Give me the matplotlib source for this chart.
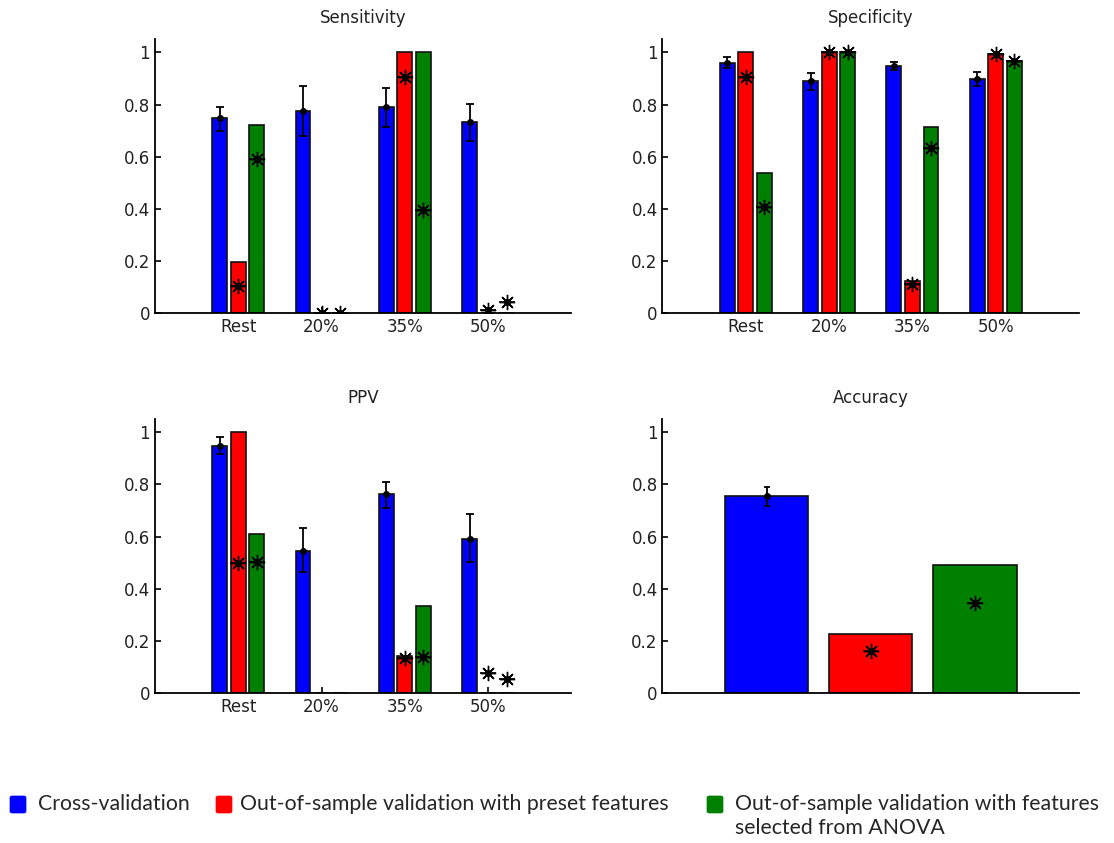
import numpy as np
import matplotlib.pyplot as plt
from matplotlib.patches import FancyBboxPatch

# 그룹 이름
groups = ['Rest', '20%', '35%', '50%']
colors = ['#0000ff', '#ff0000', '#008000']
labels = ['Cross-validation',
          'Out-of-sample validation with preset features',
          'Out-of-sample validation with features\nselected from ANOVA']

# 각 지표별 값: [cross-validation, preset, ANOVA] x 그룹
sens_bar = [[0.748, 0.775, 0.789, 0.734],
            [0.197, 0.0, 1.0, 0.0],
            [0.72, 0.0, 1.0, 0.0]]
sens_lo = [0.700, 0.679, 0.714, 0.659]
sens_hi = [0.789, 0.870, 0.865, 0.802]
sens_star = [[0.105, 0.0, 0.904, 0.013],
             [0.591, 0.0, 0.395, 0.042]]

spec_bar = [[0.960, 0.891, 0.946, 0.898],
            [1.0, 1.0, 0.124, 0.994],
            [0.538, 1.0, 0.714, 0.966]]
spec_lo = [0.939, 0.856, 0.932, 0.871]
spec_hi = [0.981, 0.920, 0.964, 0.926]
spec_star = [[0.904, 1.0, 0.111, 0.994],
             [0.407, 1.0, 0.633, 0.966]]

ppv_bar = [[0.946, 0.545, 0.764, 0.593],
           [1.0, 0.0, 0.144, 0.0],
           [0.612, 0.0, 0.333, 0.0]]
ppv_lo = [0.918, 0.464, 0.709, 0.503]
ppv_hi = [0.981, 0.635, 0.811, 0.688]
ppv_star = [[0.498, np.nan, 0.137, 0.077],
            [0.504, np.nan, 0.138, 0.055]]

acc_bar = [0.756, 0.226, 0.492]
acc_lo = 0.719
acc_hi = 0.789
acc_star = [0.163, 0.347]

plt.rcParams['font.family'] = 'DejaVu Sans'
plt.rcParams['font.size'] = 12

fig = plt.figure(figsize=(11.14, 8.43), dpi=100)

axpos = [[0.1391, 0.6283, 0.3739, 0.3251],
         [0.5947, 0.6283, 0.3739, 0.3251],
         [0.1391, 0.1776, 0.3739, 0.3251],
         [0.5947, 0.1776, 0.3739, 0.3251]]


def draw_star(ax, x, y):
    # MATLAB 스타일 '*' 마커
    ax.plot(x, y, ls='none', marker=(8, 2, 0), ms=11, mew=1.0, color='black', zorder=5)
    ax.plot(x, y, ls='none', marker='_', ms=12, mew=1.2, color='black', zorder=5)
    ax.plot(x, y, ls='none', marker='o', ms=4, color='black', zorder=6)


def style_axes(ax, title):
    ax.set_ylim(0, 1.05)
    ax.set_yticks([0, 0.2, 0.4, 0.6, 0.8, 1])
    ax.set_yticklabels(['0', '0.2', '0.4', '0.6', '0.8', '1'])
    ax.spines['top'].set_visible(False)
    ax.spines['right'].set_visible(False)
    ax.spines['left'].set_linewidth(1.3)
    ax.spines['bottom'].set_linewidth(1.3)
    ax.tick_params(direction='in', length=4, width=1.2, colors='black', labelcolor='#222222')
    ax.set_title(title, fontsize=12, pad=12, color='#222222')


def grouped(ax, title, bars, lo, hi, stars):
    x = np.arange(1, len(groups) + 1)
    gw = 3 / 4.5
    offs = [-gw / 3, 0, gw / 3]
    w = 0.8 * gw / 3
    for i in range(3):
        ax.bar(x + offs[i], bars[i], width=w, color=colors[i],
               edgecolor='#111111', linewidth=1.2, zorder=2)
    mean = np.array(bars[0])
    ax.errorbar(x + offs[0], mean, yerr=[mean - np.array(lo), np.array(hi) - mean],
                fmt='o', ms=4, color='black', ecolor='black', elinewidth=1.3,
                capsize=3, capthick=1.3, zorder=5)
    for j in range(2):
        draw_star(ax, x + offs[j + 1], stars[j])
    ax.set_xlim(0, 5)
    ax.set_xticks(x)
    ax.set_xticklabels(groups)
    style_axes(ax, title)


ax1 = fig.add_axes(axpos[0])
grouped(ax1, 'Sensitivity', sens_bar, sens_lo, sens_hi, sens_star)
ax2 = fig.add_axes(axpos[1])
grouped(ax2, 'Specificity', spec_bar, spec_lo, spec_hi, spec_star)
ax3 = fig.add_axes(axpos[2])
grouped(ax3, 'PPV', ppv_bar, ppv_lo, ppv_hi, ppv_star)

# Accuracy
ax4 = fig.add_axes(axpos[3])
xa = np.arange(1, 4)
ax4.bar(xa, acc_bar, width=0.8, color=colors, edgecolor='#111111', linewidth=1.2, zorder=2)
ax4.errorbar(xa[0], acc_bar[0], yerr=[[acc_bar[0] - acc_lo], [acc_hi - acc_bar[0]]],
             fmt='o', ms=4, color='black', elinewidth=1.3, capsize=2, capthick=1.3, zorder=5)
draw_star(ax4, xa[1:], acc_star)
ax4.set_xlim(0, 4)
ax4.set_xticks([])
style_axes(ax4, 'Accuracy')

# 범례
W, H = fig.get_size_inches() * fig.dpi
leg_x = [10, 216, 707]
leg_tx = [38, 240, 735]
for i in range(3):
    box = FancyBboxPatch((leg_x[i] / W, 1 - 813 / H), 16 / W, 17 / H,
                         boxstyle='round,pad=0,rounding_size=0.002',
                         transform=fig.transFigure, facecolor=colors[i],
                         edgecolor=colors[i], linewidth=0.5)
    fig.patches.append(box)
    fig.text(leg_tx[i] / W, 1 - 794 / H, labels[i], ha='left', va='top',
             fontsize=15.3, family='Lato', color='#262626', linespacing=1.25)

fig.savefig('out.png', dpi=100)
